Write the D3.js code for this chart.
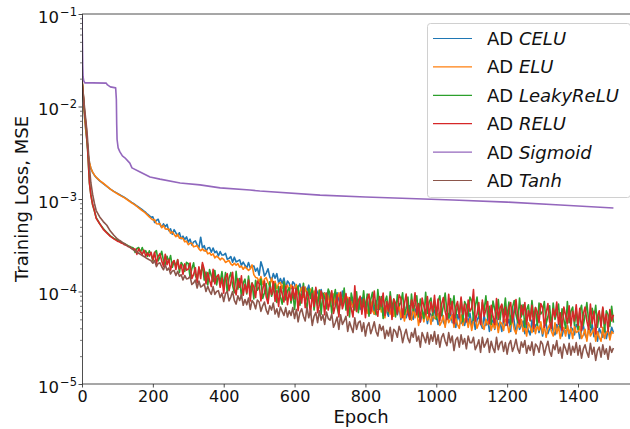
<!DOCTYPE html>
<html>
<head>
<meta charset="utf-8">
<script src="https://cdn.jsdelivr.net/npm/d3@7/dist/d3.min.js"></script>
<style>
  html, body { margin: 0; padding: 0; background: #fff; }
  svg { display: block; font-family: "DejaVu Sans", sans-serif; }
</style>
</head>
<body>
<svg id="chart" width="630" height="429"></svg>
<script>
// Training loss (MSE) per epoch for each activation function.
// Loss values are given in units of 1e-5.
const LOSS_UNIT = 1e-5;

// epochs 0..90 are sampled unevenly, then every 5 epochs from 100 to 1500
const earlyEpochs = [0, 2, 4, 6, 8, 10, 12, 15, 18, 21, 25, 30, 35, 40, 50, 60, 70, 80, 90];
const laterEpochs = d3.range(100, 1501, 5);

const celuEarly = [1900, 1650, 1280, 940, 700, 590, 490, 395, 288, 248, 214, 194, 181, 171, 157, 147, 137, 128, 121];
const celuLate = [
  115, 112, 109, 106.5, 104, 101, 98, 95, 92, 89.5, 87, 84, 81.5, 79, 76.5, 74, 71.5, 68.5, 66, 63.5,
  64.1, 55.7, 58.7, 60.4, 53.0, 49.5, 53.9, 50.0, 53.1, 45.5, 47.5, 41.7, 46.6, 43.1, 39.9, 43.2, 37.2, 39.6, 36.4, 39.0,
  34.1, 36.8, 31.8, 34.4, 35.2, 31.9, 29.8, 38.6, 29.6, 31.3, 27.2, 29.5, 29.9, 26.6, 29.5, 26.3, 27.3, 24.2, 27.0, 24.8,
  24.9, 25.9, 22.3, 22.8, 23.9, 20.7, 23.5, 20.9, 21.4, 22.0, 19.1, 20.8, 19.2, 17.9, 20.6, 17.9, 18.7, 18.9, 16.6, 17.9,
  15.0, 21.0, 18.2, 14.7, 15.8, 17.6, 14.4, 13.2, 15.6, 13.9, 15.6, 12.3, 13.8, 12.2, 14.0, 10.8, 13.0, 12.2, 10.7, 12.7,
  12.1, 9.8, 11.1, 12.1, 10.0, 9.3, 11.1, 10.2, 11.7, 9.2, 10.3, 8.5, 10.7, 9.7, 8.9, 10.5, 8.4, 9.7, 8.7, 10.2,
  7.7, 9.6, 7.1, 8.9, 9.7, 8.1, 7.2, 10.1, 7.8, 9.2, 6.3, 7.9, 8.5, 6.8, 9.0, 7.2, 8.2, 6.4, 8.6, 7.5,
  7.2, 8.1, 6.1, 6.7, 7.7, 5.7, 8.0, 6.4, 7.0, 7.9, 5.5, 7.0, 6.1, 5.4, 7.7, 5.8, 6.8, 7.1, 5.6, 6.9,
  5.0, 6.3, 6.8, 5.2, 6.0, 7.0, 5.5, 5.0, 6.5, 5.7, 6.4, 4.7, 5.7, 5.0, 6.1, 4.5, 5.9, 5.6, 4.8, 6.3,
  5.7, 4.4, 5.3, 6.0, 4.7, 4.3, 5.6, 5.0, 6.1, 4.6, 5.2, 4.1, 5.6, 5.0, 4.5, 5.7, 4.3, 5.3, 4.6, 5.8,
  4.2, 5.3, 3.9, 4.9, 5.4, 4.5, 4.0, 5.6, 4.3, 5.1, 3.7, 4.6, 4.9, 3.9, 5.2, 4.2, 4.7, 3.7, 5.0, 4.3,
  4.4, 5.0, 3.7, 6.8, 4.7, 3.5, 4.9, 3.9, 4.3, 4.8, 3.5, 4.4, 3.8, 3.4, 4.9, 3.7, 4.3, 4.5, 3.6, 4.4,
  3.3, 4.2, 4.5, 3.5, 4.0, 4.7, 3.7, 3.4, 4.4, 3.85, 4.5, 3.3, 4.0, 3.5, 4.3, 3.1, 4.1, 3.9, 3.4, 4.4,
  4.05, 3.1, 3.8, 4.3, 3.4, 3.1, 4.0, 3.6, 4.4, 3.25, 3.7, 2.9, 4.0, 3.6, 3.2, 4.1, 3.1, 3.8, 3.3, 4.1,
  3.6
];

const eluEarly = [1900, 1700, 1300, 950, 714, 600, 500, 400, 290, 250, 215, 195, 182, 172, 158, 148, 138, 128, 120];
const eluLate = [
  114, 111, 108, 105.5, 103, 100, 97, 94, 91, 88.5, 86, 83, 80, 77.5, 75, 72.5, 70, 67, 64, 61.5,
  59.5, 59.8, 54.0, 53.7, 54.2, 48.9, 51.7, 47.5, 47.2, 47.2, 42.8, 44.2, 41.4, 39.1, 41.6, 37.7, 38.0, 37.5, 34.4, 35.1,
  32.0, 33.3, 33.2, 30.4, 30.8, 31.4, 28.9, 27.6, 28.9, 27.4, 28.0, 25.5, 26.2, 24.7, 25.5, 23.1, 24.1, 23.3, 22.0, 23.0,
  22.3, 20.6, 21.2, 21.6, 19.9, 19.2, 20.2, 19.3, 20.0, 18.3, 18.8, 17.4, 18.5, 17.7, 16.9, 17.6, 19.4, 15.2, 14.2, 14.0,
  12.8, 14.5, 12.0, 13.6, 14.1, 12.5, 11.5, 14.0, 11.7, 12.9, 10.7, 12.2, 12.5, 10.8, 12.6, 10.9, 11.7, 9.9, 11.8, 10.6,
  10.9, 11.9, 9.4, 9.9, 11.0, 8.7, 11.1, 9.3, 9.8, 10.6, 8.5, 10.1, 8.9, 8.1, 10.4, 8.4, 9.3, 9.6, 7.9, 9.1,
  6.9, 8.7, 9.4, 7.2, 8.3, 9.7, 7.7, 7.0, 9.0, 8.0, 8.7, 6.5, 7.8, 6.8, 8.4, 6.1, 8.1, 7.6, 6.6, 8.5,
  7.5, 5.8, 7.0, 7.9, 6.2, 5.7, 7.3, 6.6, 8.1, 6.0, 6.6, 5.2, 7.1, 6.3, 5.7, 7.2, 5.4, 6.7, 5.9, 7.3,
  5.2, 6.4, 4.8, 6.0, 6.5, 5.4, 4.9, 6.8, 5.2, 6.2, 4.3, 5.4, 5.8, 4.7, 6.1, 4.9, 5.6, 4.4, 5.9, 5.1,
  5.1, 5.8, 4.3, 4.7, 5.5, 4.1, 5.7, 4.6, 5.0, 5.6, 4.1, 5.2, 4.4, 4.0, 5.6, 4.3, 5.0, 5.2, 4.1, 5.1,
  3.8, 4.8, 5.2, 4.0, 4.6, 5.4, 4.3, 3.9, 5.0, 4.4, 5.1, 3.8, 4.5, 4.0, 4.9, 3.6, 4.7, 4.5, 3.8, 5.0,
  4.6, 3.6, 4.3, 4.9, 3.9, 3.5, 4.5, 4.1, 5.0, 3.7, 4.2, 3.3, 4.6, 4.1, 3.6, 4.6, 3.5, 4.3, 3.8, 4.7,
  3.5, 4.3, 3.2, 4.0, 4.4, 3.7, 3.3, 4.6, 3.5, 4.2, 3.1, 3.8, 4.1, 3.3, 4.3, 3.5, 4.0, 3.1, 4.2, 3.6,
  3.7, 4.2, 3.1, 3.4, 3.9, 2.9, 4.1, 3.3, 3.6, 4.0, 2.9, 3.7, 3.2, 2.9, 4.1, 3.1, 3.6, 3.8, 3.0, 3.7,
  3.5
];

const leakyEarly = [1900, 1450, 1200, 980, 800, 680, 580, 390, 240, 148, 112, 86, 74, 63, 54, 48, 43.5, 40, 37.5];
const leakyLate = [
  36, 35.1, 34.3, 33.5, 32.8, 32.0, 31.3, 30.7, 30.0, 29.5, 26.5, 29.2, 29.9, 26.4, 29.9, 26.3, 27.6, 24.1, 27.5, 25.2,
  21.4, 26.3, 27.7, 21.4, 23.7, 27.2, 21.4, 19.3, 24.1, 20.9, 24.5, 18.3, 21.4, 18.7, 22.1, 16.1, 20.6, 19.3, 16.5, 20.7,
  20.0, 14.3, 17.6, 20.4, 15.0, 13.2, 18.0, 15.3, 19.5, 13.3, 16.2, 11.8, 17.3, 14.8, 12.8, 16.9, 11.8, 15.0, 12.6, 16.4,
  11.3, 16.0, 9.8, 13.9, 16.0, 11.7, 9.7, 16.5, 10.6, 13.8, 8.7, 12.3, 13.6, 9.4, 14.7, 10.1, 12.4, 8.3, 13.2, 10.3,
  11.2, 13.6, 8.4, 9.7, 12.2, 7.5, 12.7, 8.9, 10.2, 12.1, 7.6, 11.3, 8.8, 7.3, 12.7, 8.1, 10.2, 11.0, 7.5, 10.1,
  6.4, 10.0, 11.5, 7.1, 9.0, 12.3, 7.8, 6.6, 10.7, 8.4, 11.0, 6.3, 8.9, 7.0, 10.3, 5.7, 9.6, 8.6, 6.5, 10.6,
  9.5, 5.8, 8.3, 10.5, 6.7, 5.6, 9.2, 7.4, 10.9, 6.3, 8.3, 5.3, 9.6, 7.8, 6.3, 9.9, 5.9, 8.6, 6.8, 10.2,
  6.2, 9.4, 5.4, 8.2, 9.8, 6.9, 5.6, 10.5, 6.4, 8.8, 5.1, 7.8, 8.9, 5.9, 9.9, 6.5, 8.3, 5.3, 9.2, 7.0,
  7.6, 9.7, 5.6, 6.6, 8.7, 5.0, 9.4, 6.2, 7.3, 9.0, 5.3, 8.3, 6.3, 5.1, 9.8, 5.8, 7.7, 8.5, 5.5, 8.0,
  5.0, 7.8, 9.0, 5.5, 7.0, 9.6, 6.1, 5.2, 8.4, 6.6, 9.0, 5.2, 7.3, 5.7, 8.4, 4.7, 7.8, 7.1, 5.4, 8.7,
  7.9, 4.9, 6.9, 8.7, 5.6, 4.7, 7.6, 6.2, 9.0, 5.2, 6.9, 4.4, 7.9, 6.4, 5.2, 8.2, 4.9, 7.1, 5.6, 8.5,
  5.1, 7.7, 4.4, 6.7, 8.0, 5.6, 4.6, 8.5, 5.3, 7.2, 4.1, 6.3, 7.2, 4.8, 8.0, 5.3, 6.7, 4.3, 7.5, 5.7,
  6.1, 7.8, 4.5, 5.3, 7.0, 4.0, 7.5, 5.0, 5.9, 7.3, 4.2, 6.5, 5.0, 4.0, 7.8, 4.6, 6.1, 6.8, 4.3, 6.3,
  3.9, 6.1, 7.1, 4.3, 5.5, 7.6, 4.8, 4.1, 6.6, 5.2, 7.1, 4.1, 5.8, 4.5, 6.6, 3.7, 6.2, 5.6, 4.2, 6.9,
  4.6
];

const reluEarly = [1900, 1500, 1250, 1000, 820, 700, 600, 400, 245, 150, 110, 87, 75, 62, 54, 47, 43, 39.5, 37];
const reluLate = [
  35, 34.4, 33.5, 33.1, 32.0, 31.7, 30.6, 30.3, 29.2, 28.9, 28.8, 25.2, 29.0, 27.0, 25.2, 28.0, 24.0, 26.1, 24.1, 26.5,
  22.0, 26.6, 19.9, 24.0, 25.7, 21.3, 18.8, 25.3, 19.5, 22.3, 17.0, 20.5, 21.6, 17.3, 22.0, 17.6, 19.5, 15.3, 19.9, 17.0,
  17.5, 20.3, 13.8, 15.3, 18.1, 12.4, 18.5, 13.8, 20.5, 17.3, 12.1, 16.0, 13.2, 11.3, 17.4, 12.1, 14.4, 15.2, 11.1, 14.0,
  9.6, 14.1, 15.6, 10.2, 12.5, 16.1, 10.8, 9.2, 13.8, 11.1, 14.8, 9.1, 12.0, 9.7, 13.3, 7.9, 12.3, 11.2, 8.6, 13.0,
  12.1, 7.9, 10.5, 13.0, 8.7, 7.4, 11.1, 9.3, 12.8, 7.8, 10.2, 6.9, 11.3, 9.4, 7.7, 11.4, 7.2, 9.9, 8.0, 11.4,
  8.3, 10.8, 6.2, 9.6, 7.5, 11.3, 6.7, 10.0, 8.6, 5.7, 9.5, 6.9, 11.1, 5.9, 7.2, 10.1, 8.5, 5.6, 9.6, 6.3,
  8.0, 10.2, 5.8, 7.0, 9.2, 5.3, 9.8, 6.5, 7.7, 9.5, 5.5, 8.6, 6.5, 5.3, 11.5, 6.1, 8.0, 8.9, 5.7, 8.3,
  5.2, 8.2, 9.4, 5.8, 7.4, 10.1, 6.4, 5.4, 8.8, 6.9, 9.6, 5.5, 7.8, 6.1, 8.9, 5.0, 8.3, 7.5, 5.7, 9.2,
  8.4, 5.2, 7.3, 9.4, 6.0, 5.0, 8.1, 6.6, 9.7, 5.6, 7.4, 4.7, 8.5, 6.9, 5.6, 8.8, 5.3, 7.7, 6.0, 9.1,
  5.5, 8.3, 4.8, 7.3, 8.6, 6.1, 5.0, 9.3, 5.7, 7.8, 4.5, 6.8, 7.8, 5.2, 8.7, 5.7, 7.3, 4.7, 8.1, 6.1,
  6.6, 10.5, 4.8, 5.7, 7.6, 4.4, 8.1, 5.4, 6.4, 7.8, 4.5, 7.1, 5.4, 4.4, 8.4, 5.0, 6.6, 7.3, 4.7, 6.8,
  4.3, 6.7, 7.6, 4.7, 6.0, 8.2, 5.2, 4.4, 7.1, 5.6, 7.6, 4.4, 6.2, 4.9, 7.1, 4.0, 6.7, 6.0, 4.6, 7.4,
  6.7, 4.1, 5.8, 7.4, 4.7, 4.0, 6.5, 5.3, 7.7, 4.4, 5.9, 3.8, 6.8, 5.5, 4.5, 7.0, 4.2, 6.1, 4.8, 7.2,
  4.3, 6.6, 3.8, 5.7, 6.8, 4.8, 3.9, 7.3, 4.5, 6.1, 3.5, 5.4, 6.2, 4.1, 6.8, 4.5, 5.7, 3.7, 6.4, 4.8,
  5.6
];

const tanhEarly = [1900, 1550, 1300, 1080, 900, 760, 640, 480, 330, 220, 150, 112, 90, 75, 64, 57, 52, 45, 40.5];
const tanhLate = [
  37, 35.9, 34.9, 33.8, 32.8, 31.8, 30.9, 30.0, 29.1, 28.2, 27.4, 26.6, 25.9, 25.2, 24.5, 23.9, 23.2, 22.6, 22.0, 21.5,
  20.2, 21.7, 18.6, 20.1, 20.4, 18.5, 17.2, 19.5, 17.0, 17.9, 15.5, 16.7, 16.9, 14.9, 16.5, 14.6, 15.2, 13.3, 14.9, 13.7,
  13.8, 14.6, 11.9, 12.4, 13.3, 10.9, 13.0, 11.2, 11.5, 12.1, 10.0, 11.4, 10.1, 9.3, 11.3, 9.3, 10.0, 10.2, 8.6, 9.6,
  7.8, 9.5, 10.0, 7.9, 8.7, 10.0, 8.0, 7.3, 9.0, 8.0, 9.2, 7.1, 8.2, 7.2, 8.5, 6.4, 8.0, 7.5, 6.5, 8.1,
  7.7, 6.1, 7.0, 7.7, 6.3, 5.7, 7.0, 6.3, 7.5, 5.7, 6.5, 5.3, 6.8, 6.1, 5.5, 6.7, 5.3, 6.2, 5.5, 6.7,
  5.1, 6.4, 4.7, 5.9, 6.5, 5.4, 4.8, 6.8, 5.2, 6.2, 4.3, 5.4, 5.9, 4.6, 6.2, 4.9, 5.6, 4.4, 6.0, 5.1,
  4.9, 5.7, 4.1, 4.6, 5.3, 3.9, 5.6, 4.4, 4.8, 5.4, 3.7, 4.7, 4.1, 3.6, 5.2, 3.9, 4.6, 4.8, 3.7, 4.6,
  3.3, 4.2, 4.6, 3.5, 4.0, 4.7, 3.7, 3.3, 4.4, 3.8, 4.2, 3.1, 3.8, 3.3, 4.1, 2.9, 3.9, 3.7, 3.2, 4.2,
  3.7, 2.8, 3.4, 3.9, 3.1, 2.8, 3.6, 3.2, 4.0, 2.9, 3.3, 2.5, 3.6, 3.2, 2.8, 3.6, 2.7, 3.4, 2.9, 3.7,
  2.7, 3.4, 2.5, 3.2, 3.5, 2.9, 2.6, 3.6, 2.8, 3.3, 2.3, 3.0, 3.2, 2.5, 3.4, 2.7, 3.1, 2.4, 3.3, 2.8,
  2.8, 3.2, 2.35, 2.6, 3.0, 2.2, 3.2, 2.5, 2.75, 3.1, 2.2, 2.9, 2.45, 2.2, 3.2, 2.35, 2.75, 2.9, 2.25, 2.8,
  2.1, 2.7, 2.95, 2.25, 2.55, 3.05, 2.4, 2.15, 2.85, 2.5, 2.95, 2.15, 2.6, 2.3, 2.85, 2.05, 2.7, 2.55, 2.2, 2.9,
  2.7, 2.05, 2.5, 2.9, 2.25, 2.0, 2.65, 2.35, 2.95, 2.15, 2.5, 1.9, 2.7, 2.4, 2.1, 2.75, 2.05, 2.55, 2.2, 2.8,
  2.05, 2.6, 1.9, 2.4, 2.65, 2.2, 1.95, 2.75, 2.1, 2.5, 1.8, 2.3, 2.5, 1.95, 2.65, 2.1, 2.4, 1.85, 2.55, 2.2,
  2.45
];

const sigmoidEpochs = [0, 1, 2, 3, 5, 8, 30, 68, 72, 80, 95, 97, 98, 99, 102, 107, 114, 121, 135, 141,
  164, 192, 220, 277, 333, 390, 474, 502, 672, 800, 1047, 1200, 1350, 1500];
const sigmoidValues = [9500, 5200, 2800, 2100, 1890, 1800, 1800, 1790, 1710, 1630, 1590, 1190, 630, 440, 357, 323, 292, 279, 244, 217,
  196, 173, 164, 149, 142, 132, 125, 122, 110, 105, 97.5, 92.6, 86.1, 80];

const xTicks = [0, 200, 400, 600, 800, 1000, 1200, 1400];
const yTicks = [1e-5, 1e-4, 1e-3, 1e-2, 1e-1];
const yTickExponents = ["−5", "−4", "−3", "−2", "−1"];

const sharedEpochs = earlyEpochs.concat(laterEpochs);
const toPoints = (epochs, values) => epochs.map((e, i) => [e, values[i] * LOSS_UNIT]);

const series = [
  { name: "CELU", color: "#1f77b4", points: toPoints(sharedEpochs, celuEarly.concat(celuLate)) },
  { name: "ELU", color: "#ff7f0e", points: toPoints(sharedEpochs, eluEarly.concat(eluLate)) },
  { name: "LeakyReLU", color: "#2ca02c", points: toPoints(sharedEpochs, leakyEarly.concat(leakyLate)) },
  { name: "RELU", color: "#d62728", points: toPoints(sharedEpochs, reluEarly.concat(reluLate)) },
  { name: "Sigmoid", color: "#9467bd", points: toPoints(sigmoidEpochs, sigmoidValues) },
  { name: "Tanh", color: "#8c564b", points: toPoints(sharedEpochs, tanhEarly.concat(tanhLate)) }
];

const svg = d3.select("#chart");
const plotLeft = 82, plotRight = 640, plotTop = 14, plotBottom = 384;

const x = d3.scaleLinear().domain([0, 1575]).range([plotLeft, plotRight]);
const y = d3.scaleLog().domain([1e-5, 1e-1]).range([plotBottom, plotTop]);

svg.append("defs").append("clipPath").attr("id", "plot-clip")
  .append("rect").attr("x", plotLeft).attr("y", plotTop)
  .attr("width", plotRight - plotLeft).attr("height", plotBottom - plotTop);

// loss curves
const line = d3.line().defined(d => d[1] > 0).x(d => x(d[0])).y(d => y(d[1]));
svg.append("g").attr("clip-path", "url(#plot-clip)")
  .selectAll("path").data(series).join("path")
  .attr("d", d => line(d.points))
  .attr("fill", "none")
  .attr("stroke", d => d.color)
  .attr("stroke-width", 1.6)
  .attr("stroke-linejoin", "round");

// spines
const spines = svg.append("g").attr("stroke", "#222").attr("stroke-width", 0.8);
spines.append("line").attr("x1", plotLeft).attr("x2", plotRight).attr("y1", plotTop).attr("y2", plotTop);
spines.append("line").attr("x1", plotLeft).attr("x2", plotRight).attr("y1", plotBottom).attr("y2", plotBottom);
spines.append("line").attr("x1", plotLeft + 0.5).attr("x2", plotLeft + 0.5).attr("y1", plotTop).attr("y2", plotBottom);

// x axis
const xAxis = svg.append("g").attr("transform", `translate(0,${plotBottom})`)
  .call(d3.axisBottom(x).tickValues(xTicks).tickSize(3.5).tickPadding(3).tickFormat(d3.format("d")));
xAxis.select(".domain").remove();
xAxis.selectAll(".tick line").attr("stroke", "#222").attr("stroke-width", 0.8);
xAxis.selectAll(".tick text").attr("fill", "#111")
  .style("font-family", "DejaVu Sans").style("font-size", "16px");

// y axis: minor ticks
const minorTicks = [];
for (let p = -5; p < -1; p++) for (let m = 2; m <= 9; m++) minorTicks.push(m * Math.pow(10, p));
const yMinor = svg.append("g").attr("transform", `translate(${plotLeft},0)`)
  .call(d3.axisLeft(y).tickValues(minorTicks).tickSize(2).tickFormat(""));
yMinor.select(".domain").remove();
yMinor.selectAll(".tick line").attr("stroke", "#222").attr("stroke-width", 0.6);

// y axis: major ticks with power-of-ten labels
const yAxis = svg.append("g").attr("transform", `translate(${plotLeft},0)`)
  .call(d3.axisLeft(y).tickValues(yTicks).tickSize(3.5).tickFormat(""));
yAxis.select(".domain").remove();
yAxis.selectAll(".tick line").attr("stroke", "#222").attr("stroke-width", 0.8);
yAxis.selectAll(".tick").each(function (d, i) {
  const t = d3.select(this).append("text")
    .attr("x", -5).attr("y", 8)
    .attr("text-anchor", "end")
    .attr("fill", "#111")
    .style("font-family", "DejaVu Sans");
  t.append("tspan").style("font-size", "16.5px").text("10");
  t.append("tspan").attr("dx", 1).attr("dy", -7).style("font-size", "11.5px").text(yTickExponents[i]);
});

// axis titles
svg.append("text")
  .attr("x", (plotLeft + plotRight) / 2).attr("y", 422.5)
  .attr("text-anchor", "middle")
  .attr("fill", "#111")
  .style("font-size", "18px")
  .text("Epoch");
svg.append("text")
  .attr("transform", `translate(28,${(plotTop + plotBottom) / 2}) rotate(-90)`)
  .attr("text-anchor", "middle")
  .attr("fill", "#111")
  .style("font-size", "18px")
  .text("Training Loss, MSE");

// legend
const legend = svg.append("g");
legend.append("rect")
  .attr("x", 427.5).attr("y", 23.5)
  .attr("width", 203).attr("height", 174)
  .attr("rx", 3)
  .attr("fill", "#fff").attr("fill-opacity", 0.8)
  .attr("stroke", "#d0d0d0").attr("stroke-width", 1);
const rowY = i => 38.5 + i * 28.4;
const rows = legend.selectAll("g.row").data(series).join("g").attr("class", "row")
  .attr("transform", (d, i) => `translate(0,${rowY(i)})`);
rows.append("line")
  .attr("x1", 433).attr("x2", 472).attr("y1", 0).attr("y2", 0)
  .attr("stroke", d => d.color).attr("stroke-width", 1.2);
const labels = rows.append("text")
  .attr("x", 487).attr("y", 6.5)
  .attr("fill", "#111")
  .style("font-size", "18px");
labels.append("tspan").text("AD ");
labels.append("tspan").style("font-style", "italic").text(d => d.name);
</script>
</body>
</html>
